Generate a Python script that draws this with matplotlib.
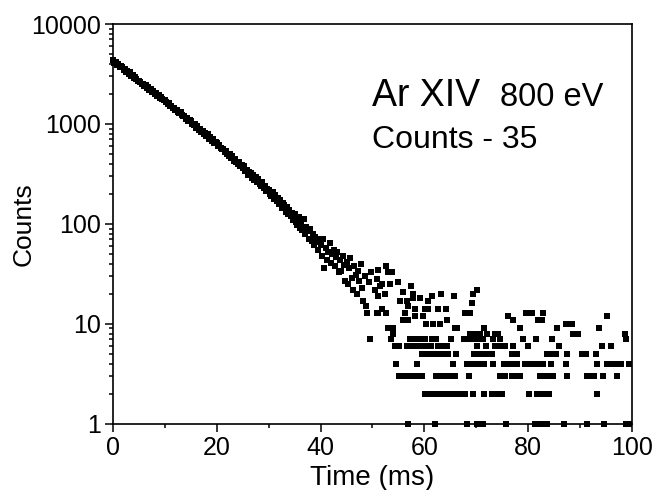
import matplotlib
matplotlib.use("Agg")
import matplotlib.pyplot as plt
import numpy as np
from matplotlib.ticker import FixedLocator, LogLocator, MultipleLocator, NullFormatter

# background-subtracted counts, 0.25 ms bins starting at t = 0
BIN_MS = 0.25
decay_counts = [
    4350, 4120, 4180, 3920, 3960, 3740, 3800, 3690, 3480, 3560, 3330, 3390, 3190, 3280, 3020, 3090, 2910, 2960, 2850, 2700,
    2710, 2650, 2540, 2530, 2420, 2430, 2310, 2330, 2190, 2220, 2110, 2120, 2000, 2030, 1920, 1940, 1830, 1850, 1760, 1720,
    1730, 1670, 1590, 1610, 1510, 1530, 1440, 1460, 1370, 1390, 1310, 1290, 1320, 1220, 1190, 1210, 1130, 1160, 1070, 1090,
    1060, 1010, 980, 990, 920, 950, 870, 900, 830, 860, 790, 820, 750, 790, 710, 740, 680, 710, 640, 660,
    645, 598, 612, 571, 559, 566, 521, 540, 503, 482, 499, 460, 473, 430, 447, 418, 401, 421, 378, 390,
    366, 381, 338, 349, 312, 331, 326, 290, 309, 276, 294, 262, 281, 252, 241, 263, 228, 239, 214, 226,
    221, 198, 189, 210, 176, 195, 168, 181, 159, 174, 146, 161, 155, 131, 148, 127, 138, 119, 128, 110,
    126, 104, 97, 118, 92, 101, 86, 112, 79, 93, 84, 70, 88, 68, 79, 61, 74, 71, 55, 66,
    62, 48, 70, 36, 58, 44, 52, 64, 41, 50, 55, 38, 47, 52, 33, 44, 34, 48, 39, 27,
    42, 25, 36, 46, 29, 22, 38, 31, 20, 34, 27, 40, 23, 17, 30, 15, 13, 26, 7, 33,
]

# tail: times (ms) of the bins that hold 1, 2, 3 ... counts
ones_ms = [56.9, 62.1, 68.3, 70.2, 70.8, 71.4, 75.8, 81.3, 81.9, 82.5, 83.6, 87.0, 91.4, 94.6, 98.8, 99.4]
twos_ms = [60.2, 61.0, 61.8, 62.6, 63.4, 64.2, 65.4, 66.2, 67.0, 67.9, 69.4, 71.5, 73.1, 74.0, 74.9,
           80.1, 81.8, 82.6, 83.4, 84.0, 93.3]
threes_ms = [55.1, 55.9, 56.6, 57.2, 58.0, 58.8, 59.6, 62.2, 63.0, 63.8, 64.6, 65.3, 66.0, 68.6, 74.6,
             75.6, 76.9, 77.7, 78.5, 82.4, 83.2, 84.0, 84.8, 87.5, 91.4, 92.0, 92.7, 94.4, 97.2]
fours_ms = [54.5, 58.6, 65.6, 68.2, 69.0, 69.8, 70.6, 71.5, 73.3, 75.3, 76.2, 77.0, 77.9, 79.5, 80.3,
            81.1, 81.9, 82.8, 84.5, 87.4, 93.3, 95.3, 96.2, 97.2, 98.0, 99.4]
fives_ms = [59.5, 60.3, 61.1, 62.0, 62.8, 63.6, 64.5, 66.1, 69.6, 70.5, 71.3, 72.2, 73.1, 77.0, 77.9,
            83.6, 84.4, 85.3, 87.6, 90.4, 91.2, 93.1]
sixes_ms = [54.4, 55.2, 56.6, 57.6, 58.5, 59.4, 60.3, 61.3, 62.6, 63.5, 64.4, 70.1, 71.8, 73.6, 74.6,
            75.5, 77.1, 80.0, 85.9, 94.2, 96.0]
sevens_ms = [53.6, 57.2, 58.3, 59.2, 60.2, 61.4, 62.3, 65.1, 67.6, 68.9, 69.8, 70.6, 71.4, 73.3, 74.5,
             79.0, 81.5, 84.7, 98.8]
eights_ms = [54.0, 68.8, 69.8, 70.8, 72.0, 73.6, 74.3, 88.7, 89.7, 98.7]
nines_ms = [53.0, 54.0, 65.9, 66.3, 71.6, 78.4, 85.5, 93.7]
tens_ms = [60.4, 61.7, 63.0, 87.4, 88.4]

# scattered higher bins after 50 ms
high_ms = [50.4, 50.8, 50.8, 51.1, 51.1, 51.1, 51.5, 51.8, 51.8, 52.4, 52.7, 52.7, 53.0, 53.4, 53.7,
           55.0, 55.3, 55.9, 55.9, 56.3, 56.6, 56.9, 56.9, 57.5, 57.9, 57.9, 58.2, 58.2, 59.2, 59.8,
           60.1, 60.8, 60.8, 61.4, 62.7, 63.2, 64.2, 64.3, 65.7, 67.8, 68.8, 69.1, 69.4, 70.1, 76.2,
           77.1, 79.7, 80.7, 82.0, 82.6, 82.9, 95.2]
high_counts = [22, 28, 13, 35, 19, 13, 24, 25, 14, 20, 38, 13, 33, 25, 33,
               26, 17, 21, 11, 13, 17, 15, 11, 24, 18, 20, 14, 12, 18, 12,
               14, 17, 14, 19, 14, 20, 14, 11, 19, 13, 13, 16, 20, 22, 12,
               11, 13, 13, 11, 11, 13, 12]

Y_TICKS = [1, 10, 100, 1000, 10000]
X_TICKS = [0, 20, 40, 60, 80, 100]

plt.rcParams["font.family"] = ["Liberation Sans", "DejaVu Sans"]

levels = [ones_ms, twos_ms, threes_ms, fours_ms, fives_ms, sixes_ms, sevens_ms, eights_ms, nines_ms, tens_ms]
time = list(np.arange(len(decay_counts)) * BIN_MS)
counts = list(decay_counts)
for value, times in enumerate(levels, start=1):
    time += times
    counts += [value] * len(times)
time += high_ms
counts += high_counts

fig = plt.figure(figsize=(6.54, 4.9), dpi=100)
ax = fig.add_axes([0.173, 0.135, 0.793, 0.816])
ax.plot(time, counts, linestyle="none", marker="s", markersize=4.9,
        markerfacecolor="black", markeredgecolor="black", markeredgewidth=0, clip_on=False)

ax.set_yscale("log")
ax.set_xlim(0, 100)
ax.set_ylim(1, 10000)
ax.xaxis.set_major_locator(FixedLocator(X_TICKS))
ax.xaxis.set_minor_locator(MultipleLocator(10))
ax.set_yticks(Y_TICKS, [str(v) for v in Y_TICKS])
ax.yaxis.set_minor_locator(LogLocator(base=10, subs=np.arange(2, 10)))
ax.yaxis.set_minor_formatter(NullFormatter())
ax.tick_params(which="major", direction="out", length=6, width=1.1, labelsize=18, pad=3)
ax.tick_params(which="minor", direction="out", length=3.2, width=1.1)
for side in ax.spines.values():
    side.set_linewidth(1.2)

ax.set_xlabel("Time (ms)", fontsize=20, labelpad=3)
ax.set_ylabel("Counts", fontsize=19)
ax.yaxis.set_label_coords(-0.15, 0.5)

ax.text(0.5, 0.795, "Ar XIV", transform=ax.transAxes, fontsize=27)
ax.text(0.745, 0.795, "800 eV", transform=ax.transAxes, fontsize=23.5)
ax.text(0.5, 0.69, "Counts - 35", transform=ax.transAxes, fontsize=23)

fig.savefig("out.png", dpi=100, facecolor="white")
